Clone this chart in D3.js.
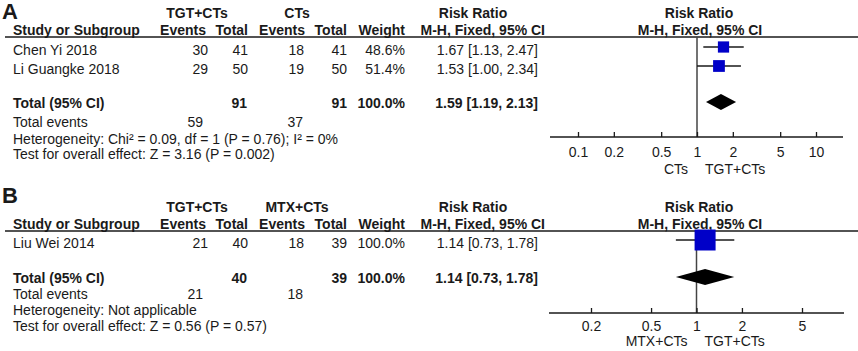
<!DOCTYPE html>
<html><head><meta charset="utf-8">
<script src="https://cdn.jsdelivr.net/npm/d3@7"></script>
<style>
body{margin:0;background:#fff}
svg{display:block}
text{font-family:"Liberation Sans",Arial,Helvetica,sans-serif;fill:#1a1a1a}
</style>
</head><body>
<svg id="c" width="858" height="351"></svg>
<script>
// ---------- data ----------
const panelLabels = ["A", "B"];
const expGroups = ["TGT+CTs", "TGT+CTs"];
const ctrlGroups = ["CTs", "MTX+CTs"];

const studiesA = ["Chen Yi 2018", "Li Guangke 2018"];
const expEventsA = [30, 29];
const expTotalA = [41, 50];
const ctrlEventsA = [18, 19];
const ctrlTotalA = [41, 50];
const weightA = [48.6, 51.4];
const rrA = [1.67, 1.53];
const lowerA = [1.13, 1.00];
const upperA = [2.47, 2.34];
const pooledA = [1.59, 1.19, 2.13];
const totalsA = [91, 91];
const totalEventsA = [59, 37];
const hetA = "Heterogeneity: Chi\u00B2 = 0.09, df = 1 (P = 0.76); I\u00B2 = 0%";
const testA = "Test for overall effect: Z = 3.16 (P = 0.002)";
const ticksA = [0.1, 0.2, 0.5, 1, 2, 5, 10];

const studiesB = ["Liu Wei 2014"];
const expEventsB = [21];
const expTotalB = [40];
const ctrlEventsB = [18];
const ctrlTotalB = [39];
const weightB = [100.0];
const rrB = [1.14];
const lowerB = [0.73];
const upperB = [1.78];
const pooledB = [1.14, 0.73, 1.78];
const totalsB = [40, 39];
const totalEventsB = [21, 18];
const hetB = "Heterogeneity: Not applicable";
const testB = "Test for overall effect: Z = 0.56 (P = 0.57)";
const ticksB = [0.2, 0.5, 1, 2, 5];

// ---------- drawing ----------
const svg = d3.select("#c");
const FS = 14;
const fmt2 = d3.format(".2f");
const ciText = (r, l, u) => `${fmt2(r)} [${fmt2(l)}, ${fmt2(u)}]`;
const sizeScale = d3.scaleLinear().domain([0, 100]).range([2, 21]);

function txt(g, x, y, s, anchor, bold, size) {
  return g.append("text").attr("x", x).attr("y", y).attr("text-anchor", anchor || "start")
    .attr("font-size", size || FS).attr("font-weight", bold ? "bold" : "normal").text(s);
}

const panels = [
  {
    label: panelLabels[0], exp: expGroups[0], ctrl: ctrlGroups[0],
    studies: studiesA, ee: expEventsA, et: expTotalA, ce: ctrlEventsA, ct: ctrlTotalA,
    w: weightA, rr: rrA, lo: lowerA, hi: upperA, pooled: pooledA, totals: totalsA,
    events: totalEventsA, het: hetA, test: testA, ticks: ticksA,
    L: { labelY: 19, grpY: 18, hdrY: 35, line: 37, rows: [55, 74], total: 108, ev: 127, het: 144, test: 159,
         axis: 137, tickPad: 10, fav: 174, dom: [0.1, 10], rng: [578, 816], ext: [550, 843] }
  },
  {
    label: panelLabels[1], exp: expGroups[1], ctrl: ctrlGroups[1],
    studies: studiesB, ee: expEventsB, et: expTotalB, ce: ctrlEventsB, ct: ctrlTotalB,
    w: weightB, rr: rrB, lo: lowerB, hi: upperB, pooled: pooledB, totals: totalsB,
    events: totalEventsB, het: hetB, test: testB, ticks: ticksB,
    L: { labelY: 203, grpY: 212, hdrY: 229, line: 231, rows: [248], total: 283, ev: 299, het: 315, test: 331,
         axis: 313, tickPad: 8, fav: 346, dom: [0.2, 5], rng: [591, 802], ext: [549, 844] }
  }
];

panels.forEach(p => {
  const L = p.L;
  const g = svg.append("g");
  const x = d3.scaleLog().domain(L.dom).range(L.rng);
  const x1 = x(1);

  // panel letter
  txt(g, 2, L.labelY, p.label, "start", true, 22);

  // group headers
  txt(g, 197, L.grpY, p.exp, "middle", true);
  txt(g, 297, L.grpY, p.ctrl, "middle", true);
  txt(g, 473, L.grpY, "Risk Ratio", "middle", true);
  txt(g, 699, L.grpY, "Risk Ratio", "middle", true);

  // column headers
  txt(g, 13, L.hdrY, "Study or Subgroup", "start", true);
  txt(g, 206, L.hdrY, "Events", "end", true);
  txt(g, 248, L.hdrY, "Total", "end", true);
  txt(g, 305, L.hdrY, "Events", "end", true);
  txt(g, 347, L.hdrY, "Total", "end", true);
  txt(g, 405, L.hdrY, "Weight", "end", true);
  txt(g, 545, L.hdrY, "M-H, Fixed, 95% CI", "end", true);
  txt(g, 700, L.hdrY, "M-H, Fixed, 95% CI", "middle", true);

  g.append("line").attr("x1", 5).attr("x2", 858).attr("y1", L.line).attr("y2", L.line)
    .attr("stroke", "#1a1a1a").attr("stroke-width", 1.3);

  // null line
  g.append("line").attr("x1", x1).attr("x2", x1).attr("y1", L.line).attr("y2", L.axis)
    .attr("stroke", "#444").attr("stroke-width", 1.5);

  // study rows
  p.studies.forEach((s, i) => {
    const y = L.rows[i];
    txt(g, 13, y, s);
    txt(g, 208, y, p.ee[i], "end");
    txt(g, 248, y, p.et[i], "end");
    txt(g, 304, y, p.ce[i], "end");
    txt(g, 347, y, p.ct[i], "end");
    txt(g, 405, y, p.w[i].toFixed(1) + "%", "end");
    txt(g, 538, y, ciText(p.rr[i], p.lo[i], p.hi[i]), "end");
    const cy = y - 8;
    g.append("line").attr("x1", x(p.lo[i])).attr("x2", x(p.hi[i])).attr("y1", cy).attr("y2", cy)
      .attr("stroke", "#1a1a1a").attr("stroke-width", 1.3);
    const sz = sizeScale(p.w[i]);
    g.append("rect").attr("x", x(p.rr[i]) - sz / 2).attr("y", cy - sz / 2)
      .attr("width", sz).attr("height", sz).attr("fill", "#0000c8");
  });

  // total row
  txt(g, 13, L.total, "Total (95% CI)", "start", true);
  txt(g, 247, L.total, p.totals[0], "end", true);
  txt(g, 347, L.total, p.totals[1], "end", true);
  txt(g, 405, L.total, "100.0%", "end", true);
  txt(g, 538, L.total, ciText(p.pooled[0], p.pooled[1], p.pooled[2]), "end", true);
  const dy = L.total - 6;
  g.append("path")
    .attr("d", `M${x(p.pooled[1])},${dy} L${x(p.pooled[0])},${dy - 8} L${x(p.pooled[2])},${dy} L${x(p.pooled[0])},${dy + 8} Z`)
    .attr("fill", "#000");

  txt(g, 13, L.ev, "Total events");
  txt(g, 203, L.ev, p.events[0], "end");
  txt(g, 303, L.ev, p.events[1], "end");
  txt(g, 13, L.het, p.het);
  txt(g, 13, L.test, p.test);

  // axis
  g.append("line").attr("x1", L.ext[0]).attr("x2", L.ext[1]).attr("y1", L.axis).attr("y2", L.axis)
    .attr("stroke", "#1a1a1a").attr("stroke-width", 1.3);
  const ax = g.append("g").attr("transform", `translate(0,${L.axis})`)
    .call(d3.axisBottom(x).tickValues(p.ticks).tickFormat(d => String(d))
      .tickSizeInner(-5).tickSizeOuter(0).tickPadding(L.tickPad));
  ax.select(".domain").remove();
  ax.selectAll(".tick line").attr("stroke", "#1a1a1a").attr("stroke-width", 1.3);
  ax.selectAll(".tick text").attr("font-size", FS).attr("fill", "#1a1a1a")
    .style("font-family", "'Liberation Sans', Arial, sans-serif");

  txt(g, x1 - 9, L.fav, p.ctrl, "end");
  txt(g, x1 + 8, L.fav, p.exp, "start");
});
</script>
</body></html>
